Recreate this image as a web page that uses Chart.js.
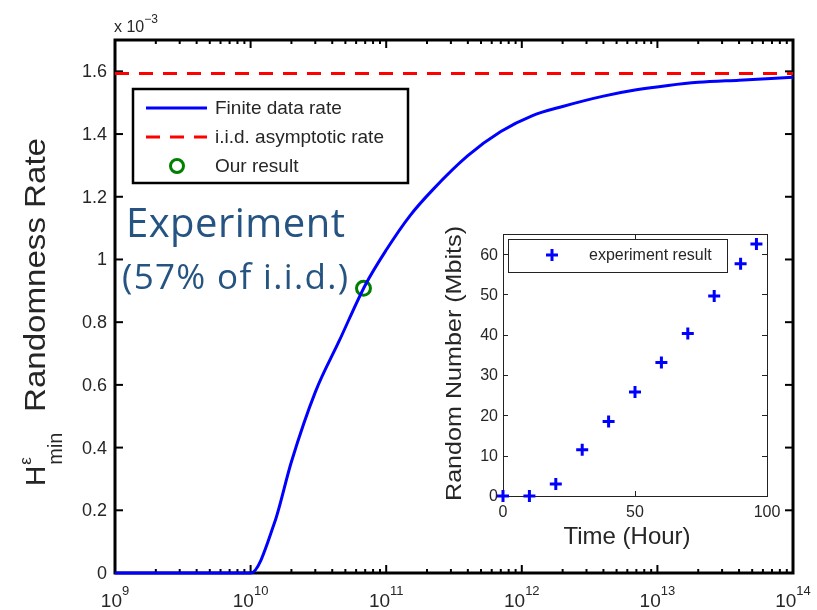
<!DOCTYPE html>
<html>
<head>
<meta charset="utf-8">
<script src="https://cdn.jsdelivr.net/npm/chart.js@4.4.0/dist/chart.umd.min.js"></script>
<style>
body { margin: 0; background: #fff; }
#wrap { position: relative; width: 817px; height: 610px; }
#main { position: absolute; left: 0; top: 0; }
#inset { position: absolute; left: 430px; top: 222px; }
</style>
</head>
<body>
<div id="wrap">
<canvas id="main" width="817" height="610"></canvas>
<canvas id="inset" width="360" height="335"></canvas>
</div>
<script>
// main plot: finite data rate curve (y in units of 1e-3)
const rateX = [1e9, 1e10, 1.5e10, 2e10, 3e10, 4.5e10, 7e10, 1e11, 1.5e11, 2.2e11, 4e11, 7e11, 1.2e12, 2e12, 4e12, 7e12, 1.2e13, 2e13, 4e13, 1e14];
const rateY = [0, 0, 0.16, 0.355, 0.577, 0.74, 0.918, 1.03, 1.14, 1.222, 1.331, 1.408, 1.459, 1.488, 1.521, 1.541, 1.555, 1.565, 1.572, 1.581];
const iidRate = 1.593;
const resultX = [6.8e10];
const resultY = [0.908];
const mainYTicks = [0, 0.2, 0.4, 0.6, 0.8, 1, 1.2, 1.4, 1.6];
const mainXExponents = [9, 10, 11, 12, 13, 14];
const legendLabels = ['Finite data rate', 'i.i.d. asymptotic rate', 'Our result'];

// inset: experiment result
const hours = [0, 10, 20, 30, 40, 50, 60, 70, 80, 90, 96];
const mbits = [0, 0, 3.0, 11.5, 18.5, 25.8, 33.1, 40.3, 49.6, 57.6, 62.5];
const insetXTicks = [0, 50, 100];
const insetYTicks = [0, 10, 20, 30, 40, 50, 60];

const FONT = '"Liberation Sans", Arial, sans-serif';
const NOTE_FONT = '"Open Sans", Lato, sans-serif';
const TXT = '#262626';

function line(ctx, x1, y1, x2, y2) {
    ctx.beginPath();
    ctx.moveTo(x1, y1);
    ctx.lineTo(x2, y2);
    ctx.stroke();
}

// draw text squeezed/stretched to a given width
function fitText(ctx, text, x, y, size, width, family) {
    ctx.font = size + 'px ' + family;
    const w = ctx.measureText(text).width;
    ctx.save();
    ctx.translate(x, y);
    ctx.scale(width / w, 1);
    ctx.fillText(text, 0, 0);
    ctx.restore();
}

// spread text out with letter spacing to a given width
function spreadText(ctx, text, x, y, size, width, family) {
    ctx.font = size + 'px ' + family;
    ctx.letterSpacing = '0px';
    const w = ctx.measureText(text).width;
    const sp = (width - w) / (text.length - 1);
    ctx.letterSpacing = sp.toFixed(2) + 'px';
    ctx.fillText(text, x, y);
    ctx.letterSpacing = '0px';
}

const mainAxes = {
    id: 'mainAxes',
    beforeDatasetsDraw(chart) {
        const ctx = chart.ctx;
        const a = chart.chartArea;
        const xs = chart.scales.x, ys = chart.scales.y;
        ctx.save();
        ctx.strokeStyle = '#000';
        ctx.lineWidth = 2;
        // log ticks, inward, top and bottom
        for (let e = mainXExponents[0]; e < mainXExponents[mainXExponents.length - 1]; e++) {
            for (let m = 1; m < 10; m++) {
                const px = xs.getPixelForValue(m * Math.pow(10, e));
                const len = m === 1 ? 8 : 4;
                line(ctx, px, a.bottom, px, a.bottom - len);
                line(ctx, px, a.top, px, a.top + len);
            }
        }
        mainYTicks.forEach(v => {
            const py = ys.getPixelForValue(v);
            line(ctx, a.left, py, a.left + 8, py);
            line(ctx, a.right, py, a.right - 8, py);
        });
        ctx.lineWidth = 3;
        ctx.strokeRect(a.left, a.top, a.right - a.left, a.bottom - a.top);
        ctx.restore();
    },
    afterDraw(chart) {
        const ctx = chart.ctx;
        const a = chart.chartArea;
        const xs = chart.scales.x, ys = chart.scales.y;
        const ds = chart.data.datasets;
        ctx.save();
        ctx.fillStyle = TXT;

        // y tick labels
        ctx.font = '18px ' + FONT;
        ctx.textAlign = 'right';
        ctx.textBaseline = 'middle';
        mainYTicks.forEach(v => {
            ctx.fillText(String(v), a.left - 8, ys.getPixelForValue(v) + 1);
        });

        // x tick labels 10^n
        ctx.textAlign = 'left';
        ctx.textBaseline = 'alphabetic';
        mainXExponents.forEach(e => {
            const px = xs.getPixelForValue(Math.pow(10, e));
            ctx.font = '19px ' + FONT;
            const wb = ctx.measureText('10').width;
            ctx.font = '13px ' + FONT;
            const we = ctx.measureText(String(e)).width;
            const x0 = px - (wb + we) / 2;
            ctx.font = '19px ' + FONT;
            ctx.fillText('10', x0, 607);
            ctx.font = '13px ' + FONT;
            ctx.fillText(String(e), x0 + wb, 595);
        });

        // multiplier
        ctx.font = '16px ' + FONT;
        ctx.fillText('x 10', a.left - 1, 32);
        const wm = ctx.measureText('x 10').width;
        ctx.font = '12px ' + FONT;
        ctx.fillText('\u22123', a.left - 1 + wm, 23);

        // y title, rotated
        ctx.save();
        ctx.translate(45, 486);
        ctx.rotate(-Math.PI / 2);
        ctx.font = '28px ' + FONT;
        ctx.fillText('H', 0, 0);
        const wh = ctx.measureText('H').width;
        ctx.font = '17px ' + FONT;
        ctx.fillText('\u03b5', wh + 1, -14);
        ctx.font = '20px ' + FONT;
        ctx.fillText('min', wh + 1, 17);
        fitText(ctx, 'Randomness Rate', 74, 0, 29, 274, FONT);
        ctx.restore();

        // legend
        const lx = 133, ly = 89, lw = 275, lh = 94;
        ctx.fillStyle = '#fff';
        ctx.fillRect(lx, ly, lw, lh);
        ctx.strokeStyle = '#000';
        ctx.lineWidth = 2.5;
        ctx.strokeRect(lx, ly, lw, lh);
        const rows = [108, 137, 166];
        ctx.lineWidth = 3;
        ctx.strokeStyle = ds[0].borderColor;
        line(ctx, 146, rows[0], 207, rows[0]);
        ctx.strokeStyle = ds[1].borderColor;
        ctx.setLineDash(ds[1].borderDash);
        line(ctx, 146, rows[1], 207, rows[1]);
        ctx.setLineDash([]);
        ctx.strokeStyle = ds[2].borderColor;
        ctx.beginPath();
        ctx.arc(177, rows[2], 6.5, 0, Math.PI * 2);
        ctx.stroke();
        ctx.fillStyle = TXT;
        ctx.font = '19px ' + FONT;
        ctx.textBaseline = 'middle';
        legendLabels.forEach((t, i) => ctx.fillText(t, 215, rows[i] + 1));

        // annotation
        ctx.fillStyle = '#255482';
        ctx.textBaseline = 'alphabetic';
        spreadText(ctx, 'Experiment', 126, 237, 40, 219, NOTE_FONT);
        spreadText(ctx, '(57% of i.i.d.)', 122, 289, 35, 226, NOTE_FONT);
        ctx.restore();
    }
};

new Chart(document.getElementById('main'), {
    type: 'line',
    data: {
        datasets: [{
            label: legendLabels[0],
            data: rateX.map((x, i) => ({ x: x, y: rateY[i] })),
            borderColor: '#0000ff',
            borderWidth: 3,
            pointRadius: 0,
            cubicInterpolationMode: 'monotone',
            clip: false
        }, {
            label: legendLabels[1],
            data: [{ x: rateX[0], y: iidRate }, { x: rateX[rateX.length - 1], y: iidRate }],
            borderColor: '#ff0000',
            borderWidth: 3,
            borderDash: [14, 10],
            pointRadius: 0,
            clip: false
        }, {
            label: legendLabels[2],
            data: resultX.map((x, i) => ({ x: x, y: resultY[i] })),
            showLine: false,
            borderColor: '#008000',
            backgroundColor: 'rgba(0,0,0,0)',
            borderWidth: 3,
            pointRadius: 7
        }]
    },
    options: {
        responsive: false,
        animation: false,
        events: [],
        layout: { padding: { left: 115, right: 24, top: 40, bottom: 37 } },
        scales: {
            x: { type: 'logarithmic', min: 1e9, max: 1e14, display: false },
            y: { type: 'linear', min: 0, max: 1.7, display: false }
        },
        plugins: { legend: { display: false }, tooltip: { enabled: false } }
    },
    plugins: [mainAxes]
});

const insetAxes = {
    id: 'insetAxes',
    beforeDatasetsDraw(chart) {
        const ctx = chart.ctx;
        const a = chart.chartArea;
        const xs = chart.scales.x, ys = chart.scales.y;
        ctx.save();
        ctx.fillStyle = '#fff';
        ctx.fillRect(a.left, a.top, a.right - a.left, a.bottom - a.top);
        ctx.strokeStyle = '#222';
        ctx.lineWidth = 1;
        insetXTicks.forEach(v => {
            const px = Math.round(xs.getPixelForValue(v)) + 0.5;
            line(ctx, px, a.bottom, px, a.bottom - 5);
            line(ctx, px, a.top, px, a.top + 5);
        });
        insetYTicks.forEach(v => {
            const py = Math.round(ys.getPixelForValue(v)) + 0.5;
            line(ctx, a.left, py, a.left + 5, py);
            line(ctx, a.right, py, a.right - 5, py);
        });
        ctx.strokeRect(a.left + 0.5, a.top + 0.5, a.right - a.left, a.bottom - a.top);

        ctx.fillStyle = TXT;
        ctx.font = '16px ' + FONT;
        ctx.textAlign = 'center';
        ctx.textBaseline = 'top';
        insetXTicks.forEach(v => ctx.fillText(String(v), xs.getPixelForValue(v), a.bottom + 9));
        ctx.textAlign = 'right';
        ctx.textBaseline = 'middle';
        insetYTicks.forEach(v => ctx.fillText(String(v), a.left - 5, ys.getPixelForValue(v) + 1));

        ctx.textAlign = 'center';
        ctx.textBaseline = 'middle';
        ctx.font = '24px ' + FONT;
        ctx.fillText('Time (Hour)', 197, 315);
        ctx.save();
        ctx.translate(25, 142);
        ctx.rotate(-Math.PI / 2);
        ctx.textAlign = 'left';
        fitText(ctx, 'Random Number (Mbits)', -137, 0, 22, 275, FONT);
        ctx.restore();
        ctx.restore();
    },
    afterDraw(chart) {
        const ctx = chart.ctx;
        const ds = chart.data.datasets[0];
        ctx.save();
        ctx.fillStyle = '#fff';
        ctx.fillRect(78, 17, 219, 33);
        ctx.strokeStyle = '#222';
        ctx.lineWidth = 1;
        ctx.strokeRect(78.5, 17.5, 219, 33);
        ctx.strokeStyle = ds.borderColor;
        ctx.lineWidth = ds.borderWidth;
        line(ctx, 122 - 6, 33, 122 + 6, 33);
        line(ctx, 122, 33 - 6, 122, 33 + 6);
        ctx.fillStyle = TXT;
        ctx.font = '16px ' + FONT;
        ctx.textBaseline = 'middle';
        ctx.fillText(ds.label, 159, 34);
        ctx.restore();
    }
};

new Chart(document.getElementById('inset'), {
    type: 'scatter',
    data: {
        datasets: [{
            label: 'experiment result',
            data: hours.map((h, i) => ({ x: h, y: mbits[i] })),
            pointStyle: 'cross',
            pointRadius: 6,
            borderWidth: 3,
            borderColor: '#0000ff',
            backgroundColor: '#0000ff',
            clip: false
        }]
    },
    options: {
        responsive: false,
        animation: false,
        events: [],
        layout: { padding: { left: 73, right: 23, top: 12, bottom: 61 } },
        scales: {
            x: { type: 'linear', min: 0, max: 100, display: false },
            y: { type: 'linear', min: 0, max: 65, display: false }
        },
        plugins: { legend: { display: false }, tooltip: { enabled: false } }
    },
    plugins: [insetAxes]
});
</script>
</body>
</html>
